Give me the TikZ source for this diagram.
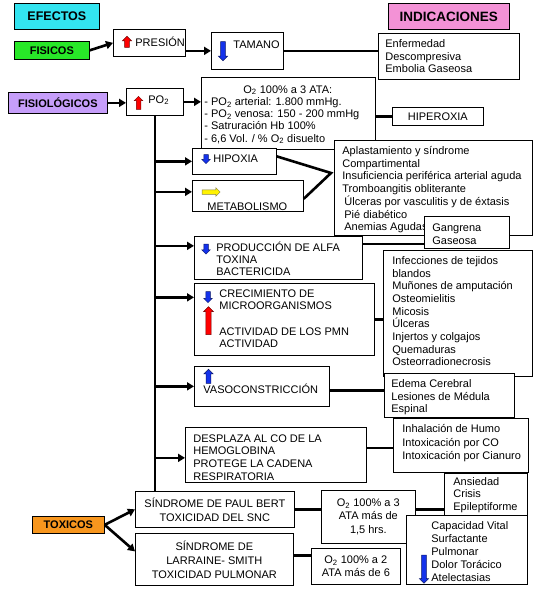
\documentclass[tikz,border=0pt]{standalone}
\usepackage{fontspec}
\setmainfont{Liberation Sans}
\usetikzlibrary{positioning, shapes.arrows, arrows.meta}
\definecolor{cEfec}{RGB}{51,228,240}
\definecolor{cIndic}{RGB}{243,146,214}
\definecolor{cFis}{RGB}{40,232,40}
\definecolor{cFisio}{RGB}{198,158,250}
\definecolor{cTox}{RGB}{247,150,30}
\definecolor{cBlue}{RGB}{20,50,235}
\begin{document}
\begin{tikzpicture}[x=1pt, y=-1pt, thick, >={Triangle[length=7pt,width=8pt]},
	box/.style = {draw, fill=white, anchor=north west, inner sep=0pt, line width=0.7pt},
	head/.style = {box, align=center, font=\bfseries\fontsize{11}{13}\selectfont},
	mid/.style = {box, align=center, font=\fontsize{11}{14}\selectfont},
	txt/.style = {inner sep=0pt, align=left, font=\fontsize{11}{12.7}\selectfont},
	link/.style = {line width=2.6pt},
	blk/.style = {single arrow, draw=#1!45!black, fill=#1, inner sep=2pt, single arrow head extend=2pt, single arrow head indent=0pt, line width=0.5pt}]

	\useasboundingbox (0,0) rectangle (534,590);
	\fill[white] (0,0) rectangle (534,590);

	% titulos
	\node[head, fill=cEfec, minimum width=85pt, minimum height=26pt, font=\bfseries\fontsize{12.5}{14}\selectfont] (efectos) at (14,3) {EFECTOS};
	\node[head, fill=cIndic, minimum width=121pt, minimum height=26pt, font=\bfseries\fontsize{13.5}{15}\selectfont] (indic) at (388,3) {INDICACIONES};
	\node[head, fill=cFis, minimum width=75pt, minimum height=18pt] (fisicos) at (14,41) {FISICOS};
	\node[head, fill=cFisio, minimum width=99pt, minimum height=21pt] (fisio) at (8,92) {FISIOLÓGICOS};
	\node[head, fill=cTox, minimum width=72pt, minimum height=17pt] (toxicos) at (32,516) {TOXICOS};

	% fisicos
	\node[box, minimum width=72pt, minimum height=27pt] (presion) at (113,29) {};
	\node[txt, below right=8pt and 22pt of presion.north west] (presion-t) {PRESIÓN};
	\node[box, minimum width=72pt, minimum height=37pt] (tamano) at (211,32) {};
	\node[txt, below right=8pt and 22pt of tamano.north west] (tamano-t) {TAMANO};
	\node[box, minimum width=141pt, minimum height=46pt] (enferm) at (378,33) {};
	\node[txt, below right=6pt and 7pt of enferm.north west] (enferm-t) {Enfermedad\\Descompresiva\\Embolia Gaseosa};

	% fisiologicos
	\node[box, minimum width=57pt, minimum height=27pt] (po2) at (126,88) {};
	\node[txt, below right=7pt and 22pt of po2.north west] (po2-t) {PO\textsubscript{2}};
	\node[box, minimum width=174pt, minimum height=72pt] (oxig) at (201,77) {};
	\node[txt, font=\fontsize{11}{12.3}\selectfont, below right=8pt and 3pt of oxig.north west] (oxig-t) {\hspace*{39pt}O\textsubscript{2} 100\% a 3 ATA:\\- PO\textsubscript{2} arterial: 1.800 mmHg.\\- PO\textsubscript{2} venosa: 150 - 200 mmHg\\- Satruración Hb 100\%\\- 6,6 Vol. / \% O\textsubscript{2} disuelto};
	\node[mid, minimum width=91pt, minimum height=18pt] (hiperox) at (392,107) {HIPEROXIA};
	\node[box, minimum width=84pt, minimum height=26pt] (hipoxia) at (192,148) {};
	\node[txt, below right=6pt and 21pt of hipoxia.north west] (hipoxia-t) {HIPOXIA};
	\node[box, minimum width=111pt, minimum height=31pt] (metab) at (192,180) {};
	\node[txt, below right=22pt and 15pt of metab.north west] (metab-t) {METABOLISMO};
	\node[box, minimum width=198pt, minimum height=95pt] (aplast) at (334,140) {};
	\node[txt, below right=6pt and 8pt of aplast.north west] (aplast-t) {Aplastamiento y síndrome\\Compartimental\\Insuficiencia periférica arterial aguda\\Tromboangitis obliterante\\\hspace*{2pt}Úlceras por vasculitis y de éxtasis\\\hspace*{2pt}Pié diabético\\\hspace*{2pt}Anemias Agudas};
	\node[box, minimum width=85pt, minimum height=32pt] (gangrena) at (424,216) {};
	\node[txt, font=\fontsize{11}{13}\selectfont, below right=7pt and 8pt of gangrena.north west] (gangrena-t) {Gangrena\\Gaseosa};
	\node[box, minimum width=168pt, minimum height=43pt] (prod) at (194,236) {};
	\node[txt, font=\fontsize{11}{12}\selectfont, below right=6pt and 22pt of prod.north west] (prod-t) {PRODUCCIÓN DE ALFA\\TOXINA\\BACTERICIDA};
	\node[box, minimum width=149pt, minimum height=126pt] (infec) at (383,250) {};
	\node[txt, below right=6pt and 9pt of infec.north west] (infec-t) {Infecciones de tejidos\\blandos\\Muñones de amputación\\Osteomielitis\\Micosis\\Úlceras\\Injertos y colgajos\\Quemaduras\\Osteorradionecrosis};
	\node[box, minimum width=180pt, minimum height=72pt] (crec) at (194,283) {};
	\node[txt, below right=6pt and 25pt of crec.north west] (crec-t) {CRECIMIENTO DE\\MICROORGANISMOS\\[12.7pt]ACTIVIDAD DE LOS PMN\\ACTIVIDAD};
	\node[box, minimum width=135pt, minimum height=40pt] (vaso) at (194,366) {};
	\node[txt, below right=18pt and 9pt of vaso.north west] (vaso-t) {VASOCONSTRICCIÓN};
	\node[box, minimum width=130pt, minimum height=44pt] (edema) at (384,373) {};
	\node[txt, below right=6pt and 7pt of edema.north west] (edema-t) {Edema Cerebral\\Lesiones de Médula\\Espinal};
	\node[box, minimum width=135pt, minimum height=54pt] (inhal) at (393,418) {};
	\node[txt, font=\fontsize{11}{13.5}\selectfont, below right=6pt and 9pt of inhal.north west] (inhal-t) {Inhalación de Humo\\Intoxicación por CO\\Intoxicación por Cianuro};
	\node[box, minimum width=181pt, minimum height=55pt] (despl) at (185,427) {};
	\node[txt, below right=7pt and 8pt of despl.north west] (despl-t) {DESPLAZA AL CO DE LA\\HEMOGLOBINA\\PROTEGE LA CADENA\\RESPIRATORIA};

	% toxicos
	\node[box, minimum width=83pt, minimum height=47pt] (ansied) at (444,473) {};
	\node[txt, font=\fontsize{11}{12.5}\selectfont, below right=4pt and 9pt of ansied.north west] (ansied-t) {Ansiedad\\Crisis\\Epileptiforme};
	\node[mid, minimum width=159pt, minimum height=36pt] (paulbert) at (135,491) {SÍNDROME DE PAUL BERT\\TOXICIDAD DEL SNC};
	\node[mid, font=\fontsize{11}{13.5}\selectfont, minimum width=94pt, minimum height=53pt] (oxa) at (321,490) {O\textsubscript{2}\ 100\% a 3\\ATA más de\\1,5 hrs.};
	\node[mid, minimum width=158pt, minimum height=52pt] (larraine) at (135,533) {SÍNDROME DE\\LARRAINE- SMITH\\TOXICIDAD PULMONAR};
	\node[mid, font=\fontsize{11}{13}\selectfont, minimum width=89pt, minimum height=36pt] (oxb) at (311,548) {O\textsubscript{2}\ 100\% a 2\\ATA más de 6};
	\node[box, minimum width=121pt, minimum height=69pt] (capac) at (406,515) {};
	\node[txt, font=\fontsize{11}{13}\selectfont, below right=6pt and 25pt of capac.north west] (capac-t) {Capacidad Vital\\Surfactante\\Pulmonar\\Dolor Torácico\\Atelectasias};

	% flechas de bloque
	\node[blk=red, shape border rotate=90, minimum height=11pt, minimum width=9pt] (presion-i) at (127,43) {};
	\node[blk=cBlue, shape border rotate=270, minimum height=19pt, minimum width=9pt] (tamano-i) at (223,50) {};
	\node[blk=red, shape border rotate=90, minimum height=13pt, minimum width=8pt] (po2-i) at (138.5,104) {};
	\node[blk=cBlue, shape border rotate=270, minimum height=9pt, minimum width=8pt] (hipoxia-i) at (206,158) {};
	\node[blk=yellow, shape border rotate=0, minimum height=18pt, minimum width=8pt] (metab-i) at (210,192) {};
	\node[blk=cBlue, shape border rotate=270, minimum height=10pt, minimum width=8pt] (prod-i) at (206,248) {};
	\node[blk=cBlue, shape border rotate=270, minimum height=11pt, minimum width=8pt] (crec-i1) at (208,296) {};
	\node[blk=red, shape border rotate=90, minimum height=28pt, minimum width=10pt] (crec-i2) at (208.5,322) {};
	\node[blk=cBlue, shape border rotate=90, minimum height=14pt, minimum width=9pt] (vaso-i) at (208.5,377.5) {};
	\node[blk=cBlue, shape border rotate=270, minimum height=28pt, minimum width=9pt] (capac-i) at (424,568) {};

	% conexiones
	\coordinate (apex) at (331,173);
	\coordinate (metab-in) at ([yshift=4pt]metab.west);
	\coordinate (prod-in) at ([yshift=12pt]prod.west);
	\coordinate (prod-out) at ([yshift=14pt]prod.east);
	\coordinate (crec-in) at ([yshift=22pt]crec.west);
	\coordinate (vaso-out) at ([yshift=-4pt]vaso.east);
	\coordinate (despl-in) at ([yshift=-3pt]despl.west);
	\coordinate (despl-out) at ([yshift=7pt]despl.east);
	\coordinate (larr-in) at ([yshift=8pt]larraine.west);
	\coordinate (larr-out) at ([yshift=4pt]larraine.east);

	\draw[->, link] (fisicos.east) -- (presion.west);
	\draw[->, link] (presion.east |- tamano.west) -- (tamano.west);
	\draw[link] (tamano.east) -- (tamano.east -| enferm.west);
	\draw[->, link] (fisio.east) -- (fisio.east -| po2.west);
	\draw[->, link] (po2.east) -- (po2.east -| oxig.west);
	\draw[link] (oxig.east |- hiperox.west) -- (hiperox.west);
	\draw[link] (po2.south) -- (po2.south |- paulbert.north);
	\draw[->, link] (po2.south |- hipoxia.west) -- (hipoxia.west);
	\draw[->, link] (po2.south |- metab-in) -- (metab-in);
	\draw[->, link] (po2.south |- prod-in) -- (prod-in);
	\draw[->, link] (po2.south |- crec-in) -- (crec-in);
	\draw[->, link] (po2.south |- vaso.west) -- (vaso.west);
	\draw[->, link] (po2.south |- despl-in) -- (despl-in);
	\draw[link] ([yshift=5pt]hipoxia.east) -- (apex) -- ([yshift=-3pt]metab.east);
	\draw[link] (prod-out) -- (prod-out -| gangrena.west);
	\draw[link] (crec.east) -- (crec.east -| infec.west);
	\draw[link] (vaso-out) -- (vaso-out -| edema.west);
	\draw[link] (despl-out) -- (despl-out -| inhal.west);
	\draw[->, link] (toxicos.east) -- (paulbert.west);
	\draw[->, link] (toxicos.east) -- (larr-in);
	\draw[link] (paulbert.east) -- (paulbert.east -| oxa.west);
	\draw[link] (paulbert.east -| oxa.east) -- (paulbert.east -| ansied.west);
	\draw[link] (larr-out) -- (larr-out -| oxb.west);
\end{tikzpicture}
\end{document}
